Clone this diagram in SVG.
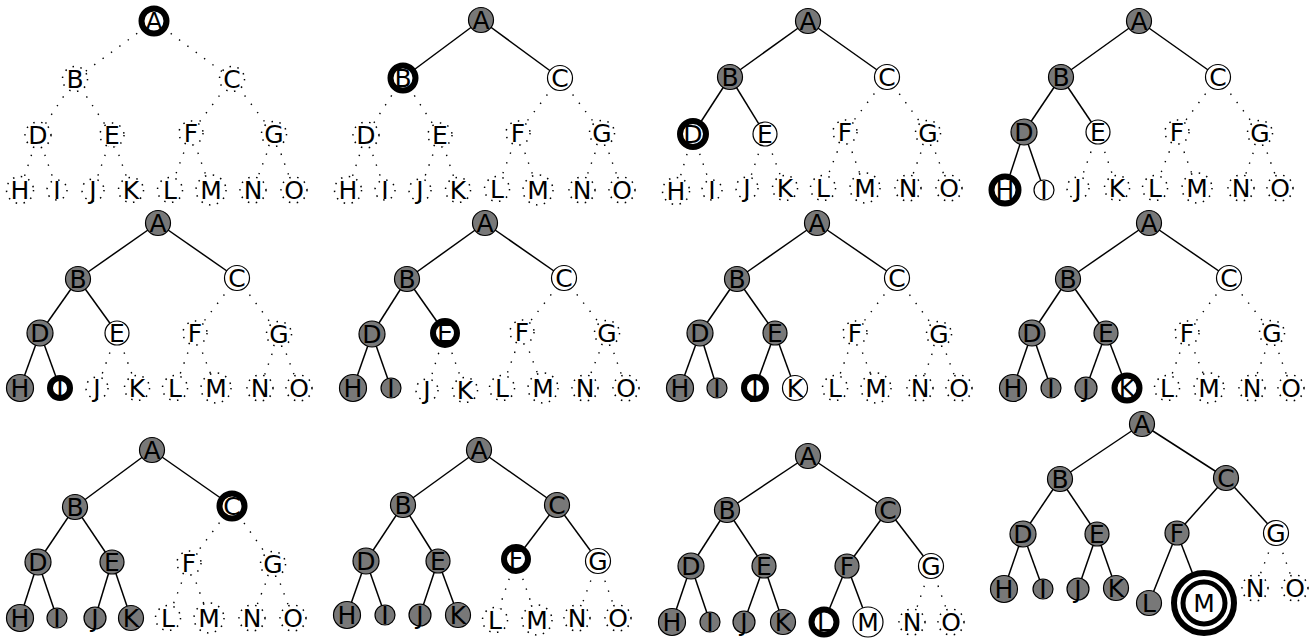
<svg xmlns="http://www.w3.org/2000/svg" width="1312" height="638" viewBox="0 0 1312 638">
<style>
.s{stroke:#000;stroke-width:1.5;fill:none}
.d{stroke:#000;stroke-width:1.4;stroke-dasharray:1.4 9;fill:none}
.v{fill:#787878;stroke:#000;stroke-width:1.2}
.w{fill:#fff;stroke:#000;stroke-width:1.2}
.c{fill:#fff;stroke:#000;stroke-width:6}
.u{fill:#fff;stroke:#000;stroke-width:1.5;stroke-dasharray:1.5 6.5}
text{font-family:"DejaVu Sans",sans-serif;font-size:25px;text-anchor:middle;fill:#000}
</style>
<rect width="1312" height="638" fill="#fff"/>

<!-- Panel 1 -->
<g id="p1">
<g id="p1-edges">
<line class="d" x1="154" y1="21" x2="75" y2="79"/><line class="d" x1="154" y1="21" x2="232" y2="79"/>
<line class="d" x1="75" y1="79" x2="38" y2="135"/><line class="d" x1="75" y1="79" x2="112" y2="135"/>
<line class="d" x1="232" y1="79" x2="191" y2="133"/><line class="d" x1="232" y1="79" x2="274" y2="134"/>
<line class="d" x1="38" y1="135" x2="20" y2="190"/><line class="d" x1="38" y1="135" x2="57" y2="190"/>
<line class="d" x1="112" y1="135" x2="93" y2="190"/><line class="d" x1="112" y1="135" x2="131" y2="190"/>
<line class="d" x1="191" y1="133" x2="170" y2="190"/><line class="d" x1="191" y1="133" x2="211" y2="190"/>
<line class="d" x1="274" y1="134" x2="253" y2="190"/><line class="d" x1="274" y1="134" x2="294" y2="190"/>
</g>
<g id="p1-A"><circle class="c" cx="154" cy="21" r="12.5"/><text x="154" y="30">A</text></g>
<g id="p1-B"><circle class="u" cx="75" cy="79" r="12.5"/><text x="75" y="88">B</text></g>
<g id="p1-C"><circle class="u" cx="232" cy="79" r="12.5"/><text x="232" y="88">C</text></g>
<g id="p1-D"><circle class="u" cx="38" cy="135" r="13"/><text x="38" y="144">D</text></g>
<g id="p1-E"><circle class="u" cx="112" cy="135" r="12"/><text x="112" y="144">E</text></g>
<g id="p1-F"><circle class="u" cx="191" cy="133" r="12"/><text x="191" y="142">F</text></g>
<g id="p1-G"><circle class="u" cx="274" cy="134" r="12.5"/><text x="274" y="143">G</text></g>
<g id="p1-H"><circle class="u" cx="20" cy="190" r="13.5"/><text x="20" y="199">H</text></g>
<g id="p1-I"><circle class="u" cx="57" cy="190" r="10"/><text x="57" y="199">I</text></g>
<g id="p1-J"><circle class="u" cx="93" cy="190" r="11"/><text x="93" y="199">J</text></g>
<g id="p1-K"><circle class="u" cx="131" cy="190" r="12.5"/><text x="131" y="199">K</text></g>
<g id="p1-L"><circle class="u" cx="170" cy="190" r="12.5"/><text x="170" y="199">L</text></g>
<g id="p1-M"><circle class="u" cx="211" cy="190" r="15"/><text x="211" y="199">M</text></g>
<g id="p1-N"><circle class="u" cx="253" cy="190" r="13"/><text x="253" y="199">N</text></g>
<g id="p1-O"><circle class="u" cx="294" cy="190" r="13"/><text x="294" y="199">O</text></g>
</g>

<!-- Panel 2 -->
<g id="p2">
<g id="p2-edges">
<line class="s" x1="481" y1="20" x2="403" y2="78"/><line class="s" x1="481" y1="20" x2="560" y2="78"/>
<line class="d" x1="403" y1="78" x2="366" y2="135"/><line class="d" x1="403" y1="78" x2="440" y2="135"/>
<line class="d" x1="560" y1="78" x2="518" y2="133"/><line class="d" x1="560" y1="78" x2="602" y2="133"/>
<line class="d" x1="366" y1="135" x2="348" y2="190"/><line class="d" x1="366" y1="135" x2="385" y2="190"/>
<line class="d" x1="440" y1="135" x2="420" y2="190"/><line class="d" x1="440" y1="135" x2="458" y2="190"/>
<line class="d" x1="518" y1="133" x2="497" y2="189"/><line class="d" x1="518" y1="133" x2="538" y2="190"/>
<line class="d" x1="602" y1="133" x2="582" y2="190"/><line class="d" x1="602" y1="133" x2="622" y2="190"/>
</g>
<g id="p2-A"><circle class="v" cx="481" cy="20" r="12.5"/><text x="481" y="29">A</text></g>
<g id="p2-B"><circle class="c" cx="403" cy="78" r="12.5"/><text x="403" y="87">B</text></g>
<g id="p2-C"><circle class="w" cx="560" cy="78" r="12.5"/><text x="560" y="87">C</text></g>
<g id="p2-D"><circle class="u" cx="366" cy="135" r="13"/><text x="366" y="144">D</text></g>
<g id="p2-E"><circle class="u" cx="440" cy="135" r="12"/><text x="440" y="144">E</text></g>
<g id="p2-F"><circle class="u" cx="518" cy="133" r="12"/><text x="518" y="142">F</text></g>
<g id="p2-G"><circle class="u" cx="602" cy="133" r="12.5"/><text x="602" y="142">G</text></g>
<g id="p2-H"><circle class="u" cx="348" cy="190" r="13.5"/><text x="348" y="199">H</text></g>
<g id="p2-I"><circle class="u" cx="385" cy="190" r="10"/><text x="385" y="199">I</text></g>
<g id="p2-J"><circle class="u" cx="420" cy="190" r="11"/><text x="420" y="199">J</text></g>
<g id="p2-K"><circle class="u" cx="458" cy="190" r="12.5"/><text x="458" y="199">K</text></g>
<g id="p2-L"><circle class="u" cx="497" cy="189" r="12.5"/><text x="497" y="198">L</text></g>
<g id="p2-M"><circle class="u" cx="538" cy="190" r="15"/><text x="538" y="199">M</text></g>
<g id="p2-N"><circle class="u" cx="582" cy="190" r="13"/><text x="582" y="199">N</text></g>
<g id="p2-O"><circle class="u" cx="622" cy="190" r="13"/><text x="622" y="199">O</text></g>
</g>

<!-- Panel 3 -->
<g id="p3">
<g id="p3-edges">
<line class="s" x1="808" y1="21" x2="730" y2="77"/><line class="s" x1="808" y1="21" x2="887" y2="77"/>
<line class="s" x1="730" y1="77" x2="693" y2="134"/><line class="s" x1="730" y1="77" x2="765" y2="134"/>
<line class="d" x1="887" y1="77" x2="845" y2="132"/><line class="d" x1="887" y1="77" x2="928" y2="133"/>
<line class="d" x1="693" y1="134" x2="676" y2="191"/><line class="d" x1="693" y1="134" x2="712" y2="190"/>
<line class="d" x1="765" y1="134" x2="747" y2="188"/><line class="d" x1="765" y1="134" x2="785" y2="188"/>
<line class="d" x1="845" y1="132" x2="823" y2="188"/><line class="d" x1="845" y1="132" x2="865" y2="188"/>
<line class="d" x1="928" y1="133" x2="908" y2="188"/><line class="d" x1="928" y1="133" x2="949" y2="188"/>
</g>
<g id="p3-A"><circle class="v" cx="808" cy="21" r="12.5"/><text x="808" y="30">A</text></g>
<g id="p3-B"><circle class="v" cx="730" cy="77" r="12.5"/><text x="730" y="86">B</text></g>
<g id="p3-C"><circle class="w" cx="887" cy="77" r="12.5"/><text x="887" y="86">C</text></g>
<g id="p3-D"><circle class="c" cx="693" cy="134" r="13"/><text x="693" y="143">D</text></g>
<g id="p3-E"><circle class="w" cx="765" cy="134" r="12"/><text x="765" y="143">E</text></g>
<g id="p3-F"><circle class="u" cx="845" cy="132" r="12"/><text x="845" y="141">F</text></g>
<g id="p3-G"><circle class="u" cx="928" cy="133" r="12.5"/><text x="928" y="142">G</text></g>
<g id="p3-H"><circle class="u" cx="676" cy="191" r="13.5"/><text x="676" y="200">H</text></g>
<g id="p3-I"><circle class="u" cx="712" cy="190" r="10"/><text x="712" y="199">I</text></g>
<g id="p3-J"><circle class="u" cx="747" cy="188" r="11"/><text x="747" y="197">J</text></g>
<g id="p3-K"><circle class="u" cx="785" cy="188" r="12.5"/><text x="785" y="197">K</text></g>
<g id="p3-L"><circle class="u" cx="823" cy="188" r="12.5"/><text x="823" y="197">L</text></g>
<g id="p3-M"><circle class="u" cx="865" cy="188" r="15"/><text x="865" y="197">M</text></g>
<g id="p3-N"><circle class="u" cx="908" cy="188" r="13"/><text x="908" y="197">N</text></g>
<g id="p3-O"><circle class="u" cx="949" cy="188" r="13"/><text x="949" y="197">O</text></g>
</g>

<!-- Panel 4 -->
<g id="p4">
<g id="p4-edges">
<line class="s" x1="1139" y1="21" x2="1061" y2="77"/><line class="s" x1="1139" y1="21" x2="1218" y2="77"/>
<line class="s" x1="1061" y1="77" x2="1024" y2="132"/><line class="s" x1="1061" y1="77" x2="1098" y2="132"/>
<line class="d" x1="1218" y1="77" x2="1177" y2="132"/><line class="d" x1="1218" y1="77" x2="1260" y2="133"/>
<line class="s" x1="1024" y1="132" x2="1005" y2="190"/><line class="s" x1="1024" y1="132" x2="1044" y2="190"/>
<line class="d" x1="1098" y1="132" x2="1078" y2="188"/><line class="d" x1="1098" y1="132" x2="1117" y2="188"/>
<line class="d" x1="1177" y1="132" x2="1155" y2="188"/><line class="d" x1="1177" y1="132" x2="1197" y2="188"/>
<line class="d" x1="1260" y1="133" x2="1241" y2="188"/><line class="d" x1="1260" y1="133" x2="1280" y2="188"/>
</g>
<g id="p4-A"><circle class="v" cx="1139" cy="21" r="12.5"/><text x="1139" y="30">A</text></g>
<g id="p4-B"><circle class="v" cx="1061" cy="77" r="12.5"/><text x="1061" y="86">B</text></g>
<g id="p4-C"><circle class="w" cx="1218" cy="77" r="12.5"/><text x="1218" y="86">C</text></g>
<g id="p4-D"><circle class="v" cx="1024" cy="132" r="13"/><text x="1024" y="141">D</text></g>
<g id="p4-E"><circle class="w" cx="1098" cy="132" r="12"/><text x="1098" y="141">E</text></g>
<g id="p4-F"><circle class="u" cx="1177" cy="132" r="12"/><text x="1177" y="141">F</text></g>
<g id="p4-G"><circle class="u" cx="1260" cy="133" r="12.5"/><text x="1260" y="142">G</text></g>
<g id="p4-H"><circle class="c" cx="1005" cy="190" r="13.5"/><text x="1005" y="199">H</text></g>
<g id="p4-I"><circle class="w" cx="1044" cy="190" r="10"/><text x="1044" y="199">I</text></g>
<g id="p4-J"><circle class="u" cx="1078" cy="188" r="11"/><text x="1078" y="197">J</text></g>
<g id="p4-K"><circle class="u" cx="1117" cy="188" r="12.5"/><text x="1117" y="197">K</text></g>
<g id="p4-L"><circle class="u" cx="1155" cy="188" r="12.5"/><text x="1155" y="197">L</text></g>
<g id="p4-M"><circle class="u" cx="1197" cy="188" r="15"/><text x="1197" y="197">M</text></g>
<g id="p4-N"><circle class="u" cx="1241" cy="188" r="13"/><text x="1241" y="197">N</text></g>
<g id="p4-O"><circle class="u" cx="1280" cy="188" r="13"/><text x="1280" y="197">O</text></g>
</g>

<!-- Panel 5 -->
<g id="p5">
<g id="p5-edges">
<line class="s" x1="158" y1="223" x2="78" y2="279"/><line class="s" x1="158" y1="223" x2="237" y2="278"/>
<line class="s" x1="78" y1="279" x2="40" y2="333"/><line class="s" x1="78" y1="279" x2="117" y2="333"/>
<line class="d" x1="237" y1="278" x2="195" y2="333"/><line class="d" x1="237" y1="278" x2="279" y2="334"/>
<line class="s" x1="40" y1="333" x2="20" y2="388"/><line class="s" x1="40" y1="333" x2="60" y2="388"/>
<line class="d" x1="117" y1="333" x2="97" y2="388"/><line class="d" x1="117" y1="333" x2="137" y2="388"/>
<line class="d" x1="195" y1="333" x2="175" y2="388"/><line class="d" x1="195" y1="333" x2="216" y2="388"/>
<line class="d" x1="279" y1="334" x2="260" y2="388"/><line class="d" x1="279" y1="334" x2="299" y2="388"/>
</g>
<g id="p5-A"><circle class="v" cx="158" cy="223" r="12.5"/><text x="158" y="232">A</text></g>
<g id="p5-B"><circle class="v" cx="78" cy="279" r="12.5"/><text x="78" y="288">B</text></g>
<g id="p5-C"><circle class="w" cx="237" cy="278" r="12.5"/><text x="237" y="287">C</text></g>
<g id="p5-D"><circle class="v" cx="40" cy="333" r="13"/><text x="40" y="342">D</text></g>
<g id="p5-E"><circle class="w" cx="117" cy="333" r="12"/><text x="117" y="342">E</text></g>
<g id="p5-F"><circle class="u" cx="195" cy="333" r="12"/><text x="195" y="342">F</text></g>
<g id="p5-G"><circle class="u" cx="279" cy="334" r="12.5"/><text x="279" y="343">G</text></g>
<g id="p5-H"><circle class="v" cx="20" cy="388" r="13.5"/><text x="20" y="397">H</text></g>
<g id="p5-I"><circle class="c" cx="60" cy="388" r="10"/><text x="60" y="397">I</text></g>
<g id="p5-J"><circle class="u" cx="97" cy="388" r="11"/><text x="97" y="397">J</text></g>
<g id="p5-K"><circle class="u" cx="137" cy="388" r="12.5"/><text x="137" y="397">K</text></g>
<g id="p5-L"><circle class="u" cx="175" cy="388" r="12.5"/><text x="175" y="397">L</text></g>
<g id="p5-M"><circle class="u" cx="216" cy="388" r="15"/><text x="216" y="397">M</text></g>
<g id="p5-N"><circle class="u" cx="260" cy="388" r="13"/><text x="260" y="397">N</text></g>
<g id="p5-O"><circle class="u" cx="299" cy="388" r="13"/><text x="299" y="397">O</text></g>
</g>

<!-- Panel 6 -->
<g id="p6">
<g id="p6-edges">
<line class="s" x1="485" y1="223" x2="407" y2="279"/><line class="s" x1="485" y1="223" x2="564" y2="278"/>
<line class="s" x1="407" y1="279" x2="372" y2="334"/><line class="s" x1="407" y1="279" x2="445" y2="333"/>
<line class="d" x1="564" y1="278" x2="522" y2="332"/><line class="d" x1="564" y1="278" x2="607" y2="333"/>
<line class="s" x1="372" y1="334" x2="353" y2="388"/><line class="s" x1="372" y1="334" x2="391" y2="388"/>
<line class="d" x1="445" y1="333" x2="427" y2="390"/><line class="d" x1="445" y1="333" x2="465" y2="390"/>
<line class="d" x1="522" y1="332" x2="502" y2="388"/><line class="d" x1="522" y1="332" x2="543" y2="388"/>
<line class="d" x1="607" y1="333" x2="585" y2="388"/><line class="d" x1="607" y1="333" x2="626" y2="388"/>
</g>
<g id="p6-A"><circle class="v" cx="485" cy="223" r="12.5"/><text x="485" y="232">A</text></g>
<g id="p6-B"><circle class="v" cx="407" cy="279" r="12.5"/><text x="407" y="288">B</text></g>
<g id="p6-C"><circle class="w" cx="564" cy="278" r="12.5"/><text x="564" y="287">C</text></g>
<g id="p6-D"><circle class="v" cx="372" cy="334" r="13"/><text x="372" y="343">D</text></g>
<g id="p6-E"><circle class="c" cx="445" cy="333" r="12"/><text x="445" y="342">E</text></g>
<g id="p6-F"><circle class="u" cx="522" cy="332" r="12"/><text x="522" y="341">F</text></g>
<g id="p6-G"><circle class="u" cx="607" cy="333" r="12.5"/><text x="607" y="342">G</text></g>
<g id="p6-H"><circle class="v" cx="353" cy="388" r="13.5"/><text x="353" y="397">H</text></g>
<g id="p6-I"><circle class="v" cx="391" cy="388" r="10"/><text x="391" y="397">I</text></g>
<g id="p6-J"><circle class="u" cx="427" cy="390" r="11"/><text x="427" y="399">J</text></g>
<g id="p6-K"><circle class="u" cx="465" cy="390" r="12.5"/><text x="465" y="399">K</text></g>
<g id="p6-L"><circle class="u" cx="502" cy="388" r="12.5"/><text x="502" y="397">L</text></g>
<g id="p6-M"><circle class="u" cx="543" cy="388" r="15"/><text x="543" y="397">M</text></g>
<g id="p6-N"><circle class="u" cx="585" cy="388" r="13"/><text x="585" y="397">N</text></g>
<g id="p6-O"><circle class="u" cx="626" cy="388" r="13"/><text x="626" y="397">O</text></g>
</g>

<!-- Panel 7 -->
<g id="p7">
<g id="p7-edges">
<line class="s" x1="817" y1="223" x2="737" y2="279"/><line class="s" x1="817" y1="223" x2="897" y2="278"/>
<line class="s" x1="737" y1="279" x2="700" y2="333"/><line class="s" x1="737" y1="279" x2="775" y2="333"/>
<line class="d" x1="897" y1="278" x2="855" y2="333"/><line class="d" x1="897" y1="278" x2="939" y2="334"/>
<line class="s" x1="700" y1="333" x2="680" y2="388"/><line class="s" x1="700" y1="333" x2="717" y2="388"/>
<line class="s" x1="775" y1="333" x2="755" y2="388"/><line class="s" x1="775" y1="333" x2="795" y2="388"/>
<line class="d" x1="855" y1="333" x2="835" y2="388"/><line class="d" x1="855" y1="333" x2="876" y2="388"/>
<line class="d" x1="939" y1="334" x2="920" y2="388"/><line class="d" x1="939" y1="334" x2="959" y2="388"/>
</g>
<g id="p7-A"><circle class="v" cx="817" cy="223" r="12.5"/><text x="817" y="232">A</text></g>
<g id="p7-B"><circle class="v" cx="737" cy="279" r="12.5"/><text x="737" y="288">B</text></g>
<g id="p7-C"><circle class="w" cx="897" cy="278" r="12.5"/><text x="897" y="287">C</text></g>
<g id="p7-D"><circle class="v" cx="700" cy="333" r="13"/><text x="700" y="342">D</text></g>
<g id="p7-E"><circle class="v" cx="775" cy="333" r="12"/><text x="775" y="342">E</text></g>
<g id="p7-F"><circle class="u" cx="855" cy="333" r="12"/><text x="855" y="342">F</text></g>
<g id="p7-G"><circle class="u" cx="939" cy="334" r="12.5"/><text x="939" y="343">G</text></g>
<g id="p7-H"><circle class="v" cx="680" cy="388" r="13.5"/><text x="680" y="397">H</text></g>
<g id="p7-I"><circle class="v" cx="717" cy="388" r="10"/><text x="717" y="397">I</text></g>
<g id="p7-J"><circle class="c" cx="755" cy="388" r="11"/><text x="755" y="397">J</text></g>
<g id="p7-K"><circle class="w" cx="795" cy="388" r="12.5"/><text x="795" y="397">K</text></g>
<g id="p7-L"><circle class="u" cx="835" cy="388" r="12.5"/><text x="835" y="397">L</text></g>
<g id="p7-M"><circle class="u" cx="876" cy="388" r="15"/><text x="876" y="397">M</text></g>
<g id="p7-N"><circle class="u" cx="920" cy="388" r="13"/><text x="920" y="397">N</text></g>
<g id="p7-O"><circle class="u" cx="959" cy="388" r="13"/><text x="959" y="397">O</text></g>
</g>

<!-- Panel 8 -->
<g id="p8">
<g id="p8-edges">
<line class="s" x1="1149" y1="223" x2="1068" y2="279"/><line class="s" x1="1149" y1="223" x2="1229" y2="278"/>
<line class="s" x1="1068" y1="279" x2="1032" y2="333"/><line class="s" x1="1068" y1="279" x2="1106" y2="333"/>
<line class="d" x1="1229" y1="278" x2="1187" y2="333"/><line class="d" x1="1229" y1="278" x2="1272" y2="333"/>
<line class="s" x1="1032" y1="333" x2="1013" y2="388"/><line class="s" x1="1032" y1="333" x2="1051" y2="388"/>
<line class="s" x1="1106" y1="333" x2="1086" y2="388"/><line class="s" x1="1106" y1="333" x2="1127" y2="388"/>
<line class="d" x1="1187" y1="333" x2="1167" y2="388"/><line class="d" x1="1187" y1="333" x2="1209" y2="388"/>
<line class="d" x1="1272" y1="333" x2="1252" y2="388"/><line class="d" x1="1272" y1="333" x2="1291" y2="388"/>
</g>
<g id="p8-A"><circle class="v" cx="1149" cy="223" r="12.5"/><text x="1149" y="232">A</text></g>
<g id="p8-B"><circle class="v" cx="1068" cy="279" r="12.5"/><text x="1068" y="288">B</text></g>
<g id="p8-C"><circle class="w" cx="1229" cy="278" r="12.5"/><text x="1229" y="287">C</text></g>
<g id="p8-D"><circle class="v" cx="1032" cy="333" r="13"/><text x="1032" y="342">D</text></g>
<g id="p8-E"><circle class="v" cx="1106" cy="333" r="12"/><text x="1106" y="342">E</text></g>
<g id="p8-F"><circle class="u" cx="1187" cy="333" r="12"/><text x="1187" y="342">F</text></g>
<g id="p8-G"><circle class="u" cx="1272" cy="333" r="12.5"/><text x="1272" y="342">G</text></g>
<g id="p8-H"><circle class="v" cx="1013" cy="388" r="13.5"/><text x="1013" y="397">H</text></g>
<g id="p8-I"><circle class="v" cx="1051" cy="388" r="10"/><text x="1051" y="397">I</text></g>
<g id="p8-J"><circle class="v" cx="1086" cy="388" r="11"/><text x="1086" y="397">J</text></g>
<g id="p8-K"><circle class="c" cx="1127" cy="388" r="12.5"/><text x="1127" y="397">K</text></g>
<g id="p8-L"><circle class="u" cx="1167" cy="388" r="12.5"/><text x="1167" y="397">L</text></g>
<g id="p8-M"><circle class="u" cx="1209" cy="388" r="15"/><text x="1209" y="397">M</text></g>
<g id="p8-N"><circle class="u" cx="1252" cy="388" r="13"/><text x="1252" y="397">N</text></g>
<g id="p8-O"><circle class="u" cx="1291" cy="388" r="13"/><text x="1291" y="397">O</text></g>
</g>

<!-- Panel 9 -->
<g id="p9">
<g id="p9-edges">
<line class="s" x1="152" y1="450" x2="75" y2="507"/><line class="s" x1="152" y1="450" x2="232" y2="506"/>
<line class="s" x1="75" y1="507" x2="38" y2="562"/><line class="s" x1="75" y1="507" x2="112" y2="562"/>
<line class="d" x1="232" y1="506" x2="189" y2="563"/><line class="d" x1="232" y1="506" x2="273" y2="564"/>
<line class="s" x1="38" y1="562" x2="20" y2="618"/><line class="s" x1="38" y1="562" x2="57" y2="618"/>
<line class="s" x1="112" y1="562" x2="95" y2="618"/><line class="s" x1="112" y1="562" x2="131" y2="618"/>
<line class="d" x1="189" y1="563" x2="168" y2="618"/><line class="d" x1="189" y1="563" x2="209" y2="618"/>
<line class="d" x1="273" y1="564" x2="252" y2="618"/><line class="d" x1="273" y1="564" x2="293" y2="618"/>
</g>
<g id="p9-A"><circle class="v" cx="152" cy="450" r="12.5"/><text x="152" y="459">A</text></g>
<g id="p9-B"><circle class="v" cx="75" cy="507" r="12.5"/><text x="75" y="516">B</text></g>
<g id="p9-C"><circle class="c" cx="232" cy="506" r="12.5"/><text x="232" y="515">C</text></g>
<g id="p9-D"><circle class="v" cx="38" cy="562" r="13"/><text x="38" y="571">D</text></g>
<g id="p9-E"><circle class="v" cx="112" cy="562" r="12"/><text x="112" y="571">E</text></g>
<g id="p9-F"><circle class="u" cx="189" cy="563" r="12"/><text x="189" y="572">F</text></g>
<g id="p9-G"><circle class="u" cx="273" cy="564" r="12.5"/><text x="273" y="573">G</text></g>
<g id="p9-H"><circle class="v" cx="20" cy="618" r="13.5"/><text x="20" y="627">H</text></g>
<g id="p9-I"><circle class="v" cx="57" cy="618" r="10"/><text x="57" y="627">I</text></g>
<g id="p9-J"><circle class="v" cx="95" cy="618" r="11"/><text x="95" y="627">J</text></g>
<g id="p9-K"><circle class="v" cx="131" cy="618" r="12.5"/><text x="131" y="627">K</text></g>
<g id="p9-L"><circle class="u" cx="168" cy="618" r="12.5"/><text x="168" y="627">L</text></g>
<g id="p9-M"><circle class="u" cx="209" cy="618" r="15"/><text x="209" y="627">M</text></g>
<g id="p9-N"><circle class="u" cx="252" cy="618" r="13"/><text x="252" y="627">N</text></g>
<g id="p9-O"><circle class="u" cx="293" cy="618" r="13"/><text x="293" y="627">O</text></g>
</g>

<!-- Panel 10 -->
<g id="p10">
<g id="p10-edges">
<line class="s" x1="479" y1="450" x2="403" y2="505"/><line class="s" x1="479" y1="450" x2="557" y2="505"/>
<line class="s" x1="403" y1="505" x2="366" y2="561"/><line class="s" x1="403" y1="505" x2="438" y2="561"/>
<line class="s" x1="557" y1="505" x2="516" y2="559"/><line class="s" x1="557" y1="505" x2="598" y2="561"/>
<line class="s" x1="366" y1="561" x2="347" y2="615"/><line class="s" x1="366" y1="561" x2="385" y2="615"/>
<line class="s" x1="438" y1="561" x2="420" y2="615"/><line class="s" x1="438" y1="561" x2="458" y2="615"/>
<line class="d" x1="516" y1="559" x2="495" y2="620"/><line class="d" x1="516" y1="559" x2="537" y2="620"/>
<line class="d" x1="598" y1="561" x2="577" y2="618"/><line class="d" x1="598" y1="561" x2="618" y2="618"/>
</g>
<g id="p10-A"><circle class="v" cx="479" cy="450" r="12.5"/><text x="479" y="459">A</text></g>
<g id="p10-B"><circle class="v" cx="403" cy="505" r="12.5"/><text x="403" y="514">B</text></g>
<g id="p10-C"><circle class="v" cx="557" cy="505" r="12.5"/><text x="557" y="514">C</text></g>
<g id="p10-D"><circle class="v" cx="366" cy="561" r="13"/><text x="366" y="570">D</text></g>
<g id="p10-E"><circle class="v" cx="438" cy="561" r="12"/><text x="438" y="570">E</text></g>
<g id="p10-F"><circle class="c" cx="516" cy="559" r="12"/><text x="516" y="568">F</text></g>
<g id="p10-G"><circle class="w" cx="598" cy="561" r="12.5"/><text x="598" y="570">G</text></g>
<g id="p10-H"><circle class="v" cx="347" cy="615" r="13.5"/><text x="347" y="624">H</text></g>
<g id="p10-I"><circle class="v" cx="385" cy="615" r="10"/><text x="385" y="624">I</text></g>
<g id="p10-J"><circle class="v" cx="420" cy="615" r="11"/><text x="420" y="624">J</text></g>
<g id="p10-K"><circle class="v" cx="458" cy="615" r="12.5"/><text x="458" y="624">K</text></g>
<g id="p10-L"><circle class="u" cx="495" cy="620" r="12.5"/><text x="495" y="629">L</text></g>
<g id="p10-M"><circle class="u" cx="537" cy="620" r="15"/><text x="537" y="629">M</text></g>
<g id="p10-N"><circle class="u" cx="577" cy="618" r="13"/><text x="577" y="627">N</text></g>
<g id="p10-O"><circle class="u" cx="618" cy="618" r="13"/><text x="618" y="627">O</text></g>
</g>

<!-- Panel 11 -->
<g id="p11">
<g id="p11-edges">
<line class="s" x1="808" y1="456" x2="727" y2="510"/><line class="s" x1="808" y1="456" x2="888" y2="510"/>
<line class="s" x1="727" y1="510" x2="691" y2="566"/><line class="s" x1="727" y1="510" x2="764" y2="566"/>
<line class="s" x1="888" y1="510" x2="847" y2="566"/><line class="s" x1="888" y1="510" x2="931" y2="566"/>
<line class="s" x1="691" y1="566" x2="672" y2="622"/><line class="s" x1="691" y1="566" x2="710" y2="622"/>
<line class="s" x1="764" y1="566" x2="744" y2="622"/><line class="s" x1="764" y1="566" x2="783" y2="622"/>
<line class="s" x1="847" y1="566" x2="824" y2="622"/><line class="s" x1="847" y1="566" x2="868" y2="622"/>
<line class="d" x1="931" y1="566" x2="912" y2="622"/><line class="d" x1="931" y1="566" x2="951" y2="622"/>
</g>
<g id="p11-A"><circle class="v" cx="808" cy="456" r="12.5"/><text x="808" y="465">A</text></g>
<g id="p11-B"><circle class="v" cx="727" cy="510" r="12.5"/><text x="727" y="519">B</text></g>
<g id="p11-C"><circle class="v" cx="888" cy="510" r="12.5"/><text x="888" y="519">C</text></g>
<g id="p11-D"><circle class="v" cx="691" cy="566" r="13"/><text x="691" y="575">D</text></g>
<g id="p11-E"><circle class="v" cx="764" cy="566" r="12"/><text x="764" y="575">E</text></g>
<g id="p11-F"><circle class="v" cx="847" cy="566" r="12"/><text x="847" y="575">F</text></g>
<g id="p11-G"><circle class="w" cx="931" cy="566" r="12.5"/><text x="931" y="575">G</text></g>
<g id="p11-H"><circle class="v" cx="672" cy="622" r="13.5"/><text x="672" y="631">H</text></g>
<g id="p11-I"><circle class="v" cx="710" cy="622" r="10"/><text x="710" y="631">I</text></g>
<g id="p11-J"><circle class="v" cx="744" cy="622" r="11"/><text x="744" y="631">J</text></g>
<g id="p11-K"><circle class="v" cx="783" cy="622" r="12.5"/><text x="783" y="631">K</text></g>
<g id="p11-L"><circle class="c" cx="824" cy="622" r="12.5"/><text x="824" y="631">L</text></g>
<g id="p11-M"><circle class="w" cx="868" cy="622" r="15"/><text x="868" y="631">M</text></g>
<g id="p11-N"><circle class="u" cx="912" cy="622" r="13"/><text x="912" y="631">N</text></g>
<g id="p11-O"><circle class="u" cx="951" cy="622" r="13"/><text x="951" y="631">O</text></g>
</g>

<!-- Panel 12 -->
<g id="p12">
<g id="p12-edges">
<line class="s" x1="1142" y1="424" x2="1060" y2="479"/><line class="s" x1="1142" y1="424" x2="1226" y2="478"/>
<line class="s" x1="1060" y1="479" x2="1023" y2="534"/><line class="s" x1="1060" y1="479" x2="1097" y2="534"/>
<line class="s" x1="1226" y1="478" x2="1177" y2="533"/><line class="s" x1="1226" y1="478" x2="1276" y2="533"/>
<line class="s" x1="1023" y1="534" x2="1004" y2="589"/><line class="s" x1="1023" y1="534" x2="1043" y2="589"/>
<line class="s" x1="1097" y1="534" x2="1078" y2="589"/><line class="s" x1="1097" y1="534" x2="1116" y2="588"/>
<line class="s" x1="1177" y1="533" x2="1149" y2="603"/><line class="s" x1="1177" y1="533" x2="1204" y2="603"/>
<line class="d" x1="1276" y1="533" x2="1255" y2="588"/><line class="d" x1="1276" y1="533" x2="1295" y2="588"/>
</g>
<g id="p12-A"><circle class="v" cx="1142" cy="424" r="12.5"/><text x="1142" y="433">A</text></g>
<g id="p12-B"><circle class="v" cx="1060" cy="479" r="12.5"/><text x="1060" y="488">B</text></g>
<g id="p12-C"><circle class="v" cx="1226" cy="478" r="12.5"/><text x="1226" y="487">C</text></g>
<g id="p12-D"><circle class="v" cx="1023" cy="534" r="13"/><text x="1023" y="543">D</text></g>
<g id="p12-E"><circle class="v" cx="1097" cy="534" r="12"/><text x="1097" y="543">E</text></g>
<g id="p12-F"><circle class="v" cx="1177" cy="533" r="12"/><text x="1177" y="542">F</text></g>
<g id="p12-G"><circle class="w" cx="1276" cy="533" r="12.5"/><text x="1276" y="542">G</text></g>
<g id="p12-H"><circle class="v" cx="1004" cy="589" r="13.5"/><text x="1004" y="598">H</text></g>
<g id="p12-I"><circle class="v" cx="1043" cy="589" r="10"/><text x="1043" y="598">I</text></g>
<g id="p12-J"><circle class="v" cx="1078" cy="589" r="11"/><text x="1078" y="598">J</text></g>
<g id="p12-K"><circle class="v" cx="1116" cy="588" r="12.5"/><text x="1116" y="597">K</text></g>
<g id="p12-L"><circle class="v" cx="1149" cy="603" r="12.5"/><text x="1149" y="612">L</text></g>
<g id="p12-M"><circle fill="#fff" stroke="#000" stroke-width="6" cx="1204" cy="603" r="30"/><circle fill="none" stroke="#000" stroke-width="5" cx="1204" cy="603" r="21"/><text x="1204" y="612">M</text></g>
<g id="p12-N"><circle class="u" cx="1255" cy="588" r="13"/><text x="1255" y="597">N</text></g>
<g id="p12-O"><circle class="u" cx="1295" cy="588" r="13"/><text x="1295" y="597">O</text></g>
</g>
</svg>
